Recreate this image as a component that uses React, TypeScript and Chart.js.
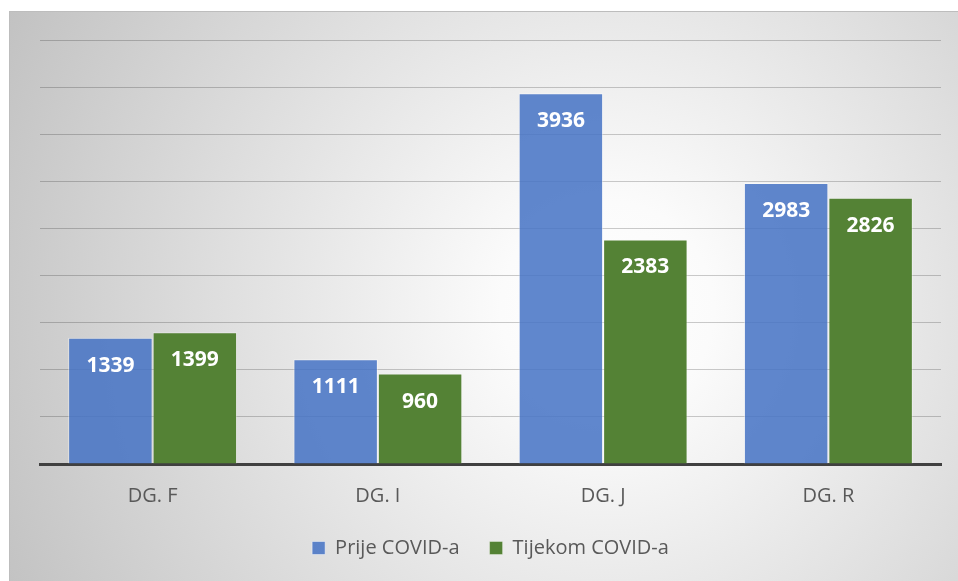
import React, { useEffect, useRef } from "react";
import { Chart, registerables } from "chart.js";

Chart.register(...registerables);

const categories = ["DG. F", "DG. I", "DG. J", "DG. R"];
const seriesNames = ["Prije COVID-a", "Tijekom COVID-a"];
const beforeCovid = [1339, 1111, 3936, 2983];
const duringCovid = [1399, 960, 2383, 2826];
const yMax = 4500;
const yStep = 500;

const valueLabels = {
  id: "valueLabels",
  afterDatasetsDraw(chart: any) {
    const ctx = chart.ctx;
    ctx.save();
    ctx.font = 'bold 21px "Open Sans", sans-serif';
    ctx.fillStyle = "#ffffff";
    ctx.textAlign = "center";
    ctx.textBaseline = "middle";
    chart.data.datasets.forEach((ds: any, i: number) => {
      chart.getDatasetMeta(i).data.forEach((bar: any, j: number) => {
        ctx.fillText(String(ds.data[j]), bar.x, bar.y + 28);
      });
    });
    ctx.restore();
  },
};

export default function App() {
  const ref = useRef<HTMLCanvasElement>(null);

  useEffect(() => {
    if (!ref.current) return;
    Chart.defaults.font.family = '"Open Sans", sans-serif';
    Chart.defaults.color = "#595959";
    const chart = new Chart(ref.current, {
      type: "bar",
      data: {
        labels: categories,
        datasets: [
          {
            label: seriesNames[0],
            data: beforeCovid,
            backgroundColor: "rgba(68,114,196,0.85)",
            borderColor: "rgba(255,255,255,0.45)",
            borderWidth: 1,
            barPercentage: 1,
            categoryPercentage: 0.75,
          },
          {
            label: seriesNames[1],
            data: duringCovid,
            backgroundColor: "#548235",
            borderColor: "rgba(255,255,255,0.35)",
            borderWidth: 1,
            barPercentage: 1,
            categoryPercentage: 0.75,
          },
        ],
      },
      options: {
        responsive: false,
        maintainAspectRatio: false,
        animation: false,
        layout: { padding: { left: 30, right: 17, top: 28, bottom: 13 } },
        plugins: {
          tooltip: { enabled: false },
          legend: {
            position: "bottom",
            labels: {
              font: { size: 20 },
              color: "#595959",
              boxWidth: 13,
              boxHeight: 13,
              padding: 30,
            },
          },
        },
        scales: {
          x: {
            grid: { display: false, drawTicks: false },
            border: { display: true, color: "#404040", width: 3 },
            ticks: { font: { size: 20 }, color: "#595959", padding: 20 },
            afterFit: (s: any) => {
              s.height = 44;
            },
          },
          y: {
            min: 0,
            max: yMax,
            ticks: { display: false, stepSize: yStep },
            grid: { color: "rgba(0,0,0,0.2)", drawTicks: false, lineWidth: 1 },
            border: { display: false },
            afterFit: (s: any) => {
              s.width = 0;
            },
          },
        },
      },
      plugins: [valueLabels],
    });
    return () => chart.destroy();
  }, []);

  return (
    <div
      style={{
        position: "absolute",
        left: 9,
        top: 11,
        width: 949,
        height: 570,
        boxSizing: "border-box",
        borderTop: "1px solid #bdbdbd",
        borderLeft: "1px solid #bdbdbd",
        overflow: "hidden",
        background:
          "radial-gradient(circle farthest-corner at 63% 52%, #ffffff 0%, #fbfbfb 16%, #c2c2c2 100%)",
      }}
    >
      <canvas ref={ref} width={948} height={569} style={{ display: "block" }} />
    </div>
  );
}
